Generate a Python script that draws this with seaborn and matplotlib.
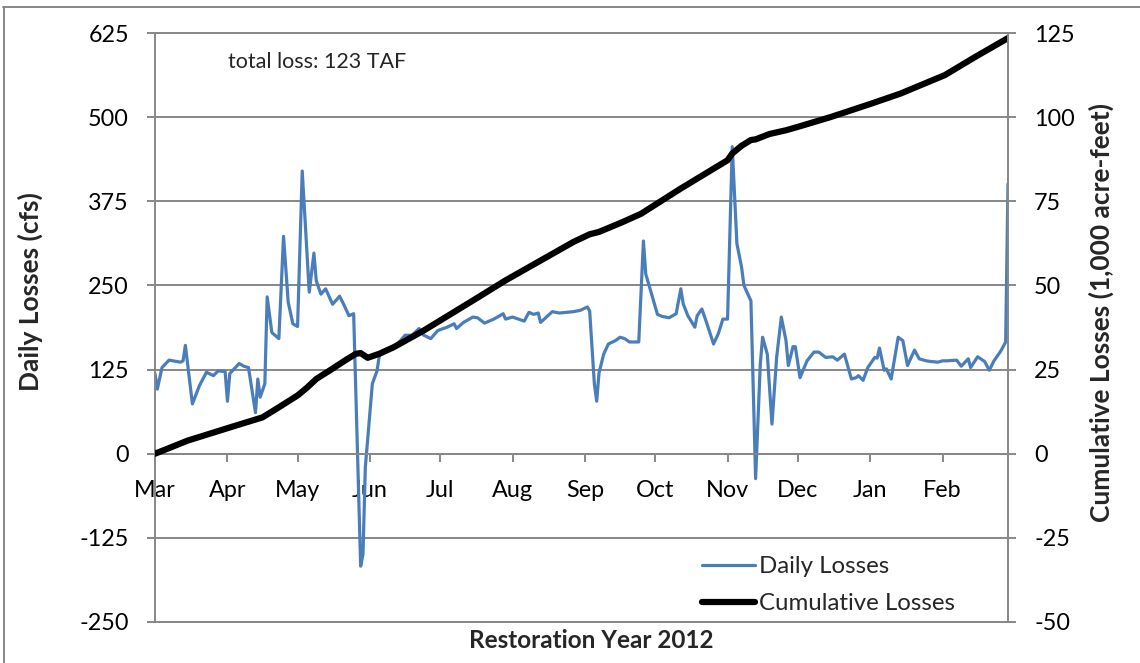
import matplotlib
matplotlib.use("Agg")
import matplotlib.pyplot as plt
import seaborn as sns
import pandas as pd
from matplotlib.lines import Line2D

# ---- data ----
daily_day = [0, 1, 3, 6, 11, 12, 13, 16, 19, 22, 25, 27, 30, 31, 32, 36, 38, 40, 43, 44,
             45, 47, 48, 50, 53, 55, 57, 59, 61, 63, 66, 68, 69, 71, 73, 76, 79, 81, 83, 85,
             88, 89, 90, 92, 93, 95, 96, 98, 102, 107, 110, 113, 115, 118, 121, 125, 128, 129, 132, 136,
             138, 141, 145, 149, 150, 153, 158, 160, 162, 164, 165, 170, 173, 179, 182, 185, 186, 188, 189, 190,
             192, 194, 197, 199, 201, 203, 207, 209, 210, 212, 215, 217, 220, 223, 225, 226, 228, 231, 232, 234,
             236, 239, 241, 243, 245, 247, 249, 251, 252, 255, 257, 259, 260, 262, 264, 266, 268, 270, 271, 273,
             274, 276, 279, 282, 284, 287, 290, 292, 295, 298, 300, 301, 303, 305, 308, 309, 310, 312, 313, 315,
             318, 320, 322, 325, 327, 330, 332, 335, 337, 339, 343, 345, 348, 349, 352, 355, 357, 359, 362, 364, 365]
daily_cfs = [119, 96, 128, 139, 136, 138, 161, 74, 101, 121, 116, 123, 122, 78, 119, 134, 130, 128, 61, 111,
             84, 104, 233, 180, 171, 323, 225, 193, 189, 420, 240, 298, 257, 237, 245, 222, 234, 220, 205, 208,
             -167, -149, -20, 64, 104, 123, 146, 153, 156, 176, 176, 186, 176, 171, 183, 188, 193, 186, 195, 203,
             202, 194, 200, 208, 200, 203, 197, 210, 207, 209, 195, 211, 209, 211, 213, 218, 212, 104, 78, 120,
             148, 163, 168, 173, 171, 166, 166, 316, 267, 243, 207, 204, 202, 208, 245, 223, 205, 188, 205, 215,
             195, 163, 178, 200, 200, 456, 312, 277, 250, 227, -37, 133, 173, 148, 44, 143, 203, 168, 131, 159,
             159, 113, 138, 151, 151, 143, 144, 139, 148, 111, 113, 116, 109, 128, 143, 142, 157, 124, 126, 111,
             173, 168, 131, 154, 141, 138, 137, 136, 138, 138, 139, 130, 141, 128, 144, 137, 124, 138, 153, 166, 401]

cum_day = [0, 14, 32, 46, 53, 61, 65, 69, 74, 78, 82, 86, 88, 91, 96, 102, 115, 136, 150, 165, 179, 186, 190, 200, 208,
           225, 245, 247, 251, 255, 257, 263, 270, 276, 289, 306, 319, 338, 351, 365]
cum_taf = [0, 3.9, 7.8, 10.8, 13.8, 17.3, 19.6, 22.2, 24.4, 26.2, 28.0, 29.7, 29.9, 28.5, 29.7, 31.6, 36.6, 45.5, 51.5, 57.4,
           62.9, 65.2, 65.9, 68.8, 71.3, 78.8, 87.2, 89.2, 91.5, 93.2, 93.4, 95.0, 96.1, 97.3, 100.0, 103.9, 107.0, 112.5, 117.9, 123.5]

month_days = [0, 31, 61, 92, 122, 153, 184, 214, 245, 275, 306, 337]
month_labels = ["Mar", "Apr", "May", "Jun", "Jul", "Aug", "Sep", "Oct", "Nov", "Dec", "Jan", "Feb"]
left_ticks = [-250, -125, 0, 125, 250, 375, 500, 625]
right_ticks = [-50, -25, 0, 25, 50, 75, 100, 125]

df_daily = pd.DataFrame({"day": daily_day, "cfs": daily_cfs})
df_cum = pd.DataFrame({"day": cum_day, "taf": cum_taf})

# ---- style ----
sns.set_theme(style="white")
plt.rcParams["font.family"] = ["Lato", "DejaVu Sans"]
GRAY = "#878787"
BLUE = "#4a7ebb"
FS = 16.8
FS_LEG = 17.3
FS_LAB = 19

W, H = 1140, 663
fig = plt.figure(figsize=(W / 100, H / 100), dpi=100)
L, R, T, B = 155, 1008, 33, 622
ax = fig.add_axes([L / W, 1 - B / H, (R - L) / W, (B - T) / H])
ax2 = ax.twinx()

sns.lineplot(data=df_daily, x="day", y="cfs", ax=ax, color=BLUE, lw=2.3,
             label="Daily Losses", legend=False)
sns.lineplot(data=df_cum, x="day", y="taf", ax=ax2, color="black", lw=4.5,
             label="Cumulative Losses", legend=False)
for ln in ax2.get_lines():
    ln.set_solid_joinstyle("round")

ax.set_xlim(0, 365)
ax.set_ylim(-250, 625)
ax2.set_ylim(-50, 125)
ax.set_yticks(left_ticks)
ax.set_yticklabels([str(v) for v in left_ticks])
ax2.set_yticks(right_ticks)
ax2.set_yticklabels([str(v) for v in right_ticks])
ax.set_xticks(month_days)
ax.set_xticklabels(month_labels)

ax.grid(axis="y", color=GRAY, lw=1.4)
ax.grid(axis="x", visible=False)
ax2.grid(False)

for s in ["top", "right"]:
    ax.spines[s].set_visible(False)
ax.spines["left"].set_color(GRAY)
ax.spines["left"].set_linewidth(1.4)
ax.spines["bottom"].set_position(("data", 0))
ax.spines["bottom"].set_color(GRAY)
ax.spines["bottom"].set_linewidth(1.4)
ax2.spines["left"].set_visible(False)
for s in ["top", "bottom", "right"]:
    ax2.spines[s].set_color(GRAY)
    ax2.spines[s].set_linewidth(1.4)

ax.tick_params(axis="x", direction="out", length=5.8, width=1.4, color=GRAY,
               labelsize=FS, labelcolor="black", pad=13, bottom=True)
ax.tick_params(axis="y", direction="out", length=5.8, width=1.4, color=GRAY,
               labelsize=FS, labelcolor="black", pad=13, left=True)
ax2.tick_params(axis="y", direction="out", length=5.8, width=1.4, color=GRAY,
                labelsize=FS, labelcolor="black", pad=13, right=True)

ax.set_xlabel("Restoration Year 2012", fontsize=17.5, fontweight="bold")
ax.set_ylabel("Daily Losses (cfs)", fontsize=FS_LAB, fontweight="bold")
ax2.set_ylabel("Cumulative Losses (1,000 acre-feet)", fontsize=FS_LAB, fontweight="bold")
ax.xaxis.set_label_coords((591 - L) / (R - L), (B - 641) / (B - T))
ax.yaxis.set_label_coords((30 - L) / (R - L), (B - 292) / (B - T))
ax2.yaxis.set_label_coords((1101 - L) / (R - L), (B - 312) / (B - T))
for lab in (ax.xaxis.label, ax.yaxis.label, ax2.yaxis.label):
    lab.set_va("center")
    lab.set_ha("center")

ax.text((228 - L) / (R - L), (B - 62) / (B - T), "total loss: 123 TAF",
        transform=ax.transAxes, fontsize=15.5, ha="left", va="center")

handles = [Line2D([], [], color=BLUE, lw=2.3), Line2D([], [], color="black", lw=4.5)]
ax2.legend(handles, ["Daily Losses", "Cumulative Losses"], loc="lower left",
           bbox_to_anchor=((702 - L) / (R - L), (B - 614) / (B - T)),
           frameon=False, fontsize=FS_LEG, handlelength=2.2, handletextpad=0.17,
           labelspacing=0.66, borderaxespad=0, borderpad=0)

# outer chart border (clipped on right/bottom as in the reference)
fig.add_artist(Line2D([3 / W, 1], [1 - 7 / H, 1 - 7 / H], transform=fig.transFigure, color=GRAY, lw=1.4))
fig.add_artist(Line2D([4 / W, 4 / W], [0, 1 - 7 / H], transform=fig.transFigure, color=GRAY, lw=1.4))

fig.savefig("out.png", dpi=100)
